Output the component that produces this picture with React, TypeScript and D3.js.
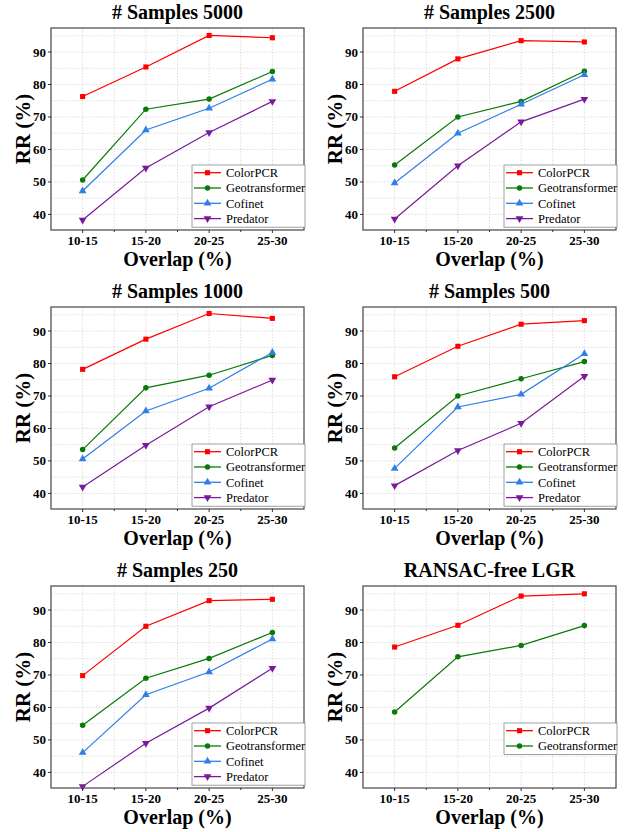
import React from "react";
import * as d3 from "d3";

// overlap buckets on the x axis
const overlaps = ["10-15", "15-20", "20-25", "25-30"];
const yTicks = [40, 50, 60, 70, 80, 90];
const methods = ["ColorPCR", "Geotransformer", "Cofinet", "Predator"];

// RR (%), one array per method per panel
const colorpcr5000 = [76.3, 85.4, 95.1, 94.4];
const geo5000 = [50.6, 72.4, 75.5, 84.0];
const cofinet5000 = [47.2, 66.0, 72.7, 81.6];
const predator5000 = [38.3, 54.3, 65.2, 74.8];

const colorpcr2500 = [77.9, 87.9, 93.5, 93.1];
const geo2500 = [55.2, 70.0, 74.8, 84.1];
const cofinet2500 = [49.7, 65.0, 73.9, 83.0];
const predator2500 = [38.6, 55.0, 68.5, 75.5];

const colorpcr1000 = [78.2, 87.5, 95.4, 93.9];
const geo1000 = [53.5, 72.5, 76.4, 82.5];
const cofinet1000 = [50.6, 65.4, 72.4, 83.4];
const predator1000 = [42.0, 54.8, 66.7, 74.9];

const colorpcr500 = [75.9, 85.3, 92.1, 93.2];
const geo500 = [54.0, 70.0, 75.3, 80.6];
const cofinet500 = [47.7, 66.6, 70.5, 83.0];
const predator500 = [42.4, 53.2, 61.6, 76.1];

const colorpcr250 = [69.8, 85.0, 92.9, 93.3];
const geo250 = [54.5, 69.0, 75.1, 83.1];
const cofinet250 = [46.1, 63.9, 70.9, 81.1];
const predator250 = [35.7, 49.0, 59.8, 72.1];

const colorpcrLGR = [78.6, 85.3, 94.3, 95.0];
const geoLGR = [58.6, 75.6, 79.1, 85.2];

const titles = ["# Samples 5000", "# Samples 2500", "# Samples 1000", "# Samples 500", "# Samples 250", "RANSAC-free LGR"];

const colors: Record<string, string> = {
  ColorPCR: "#ff0000",
  Geotransformer: "#087a08",
  Cofinet: "#2f7fe6",
  Predator: "#7a1a9a",
};
const shapes: Record<string, any> = {
  ColorPCR: { type: d3.symbolSquare, size: 26, rot: 0 },
  Geotransformer: { type: d3.symbolCircle, size: 24, rot: 0 },
  Cofinet: { type: d3.symbolTriangle, size: 26, rot: 0 },
  Predator: { type: d3.symbolTriangle, size: 26, rot: 180 },
};

const panels = [
  [colorpcr5000, geo5000, cofinet5000, predator5000],
  [colorpcr2500, geo2500, cofinet2500, predator2500],
  [colorpcr1000, geo1000, cofinet1000, predator1000],
  [colorpcr500, geo500, cofinet500, predator500],
  [colorpcr250, geo250, cofinet250, predator250],
  [colorpcrLGR, geoLGR],
];

const W = 629, H = 832;
const colLeft = [51, 363];
const rowTop = [28, 307, 586];
const pw = 253, ph = 202;
const serif = { fontFamily: "Liberation Serif, DejaVu Serif, serif" };

function Marker({ m, x, y }: { m: string; x: number; y: number }) {
  const s = shapes[m];
  const path = d3.symbol().type(s.type).size(s.size)()!;
  return <path d={path} transform={`translate(${x},${y}) rotate(${s.rot})`} fill={colors[m]} />;
}

function Panel({ idx }: { idx: number }) {
  const left = colLeft[idx % 2];
  const top = rowTop[Math.floor(idx / 2)];
  const right = left + pw, bottom = top + ph;
  const x = d3.scalePoint<string>().domain(overlaps).range([left, right]).padding(0.5);
  const y = d3.scaleLinear().domain([35.2, 97.4]).range([bottom, top]);
  const step = x.step();
  const series = panels[idx];
  const line = d3.line<number>().x((_, i) => x(overlaps[i])!).y((v) => y(v));
  const gridY = d3.range(40, 97, 5);
  const minorX = overlaps.map((c) => x(c)! + step / 2).slice(0, 3).concat([x(overlaps[0])! - step / 2]);
  const legTop = top + 137;
  const legLeft = right - 112;
  const legH = 15.3 * series.length + 1;

  return (
    <g style={serif}>
      <text x={(left + right) / 2} y={top - 9} textAnchor="middle" fontWeight="bold" fontSize={20}>
        {titles[idx]}
      </text>
      {/* grid */}
      <g stroke="#d6d6d6" strokeWidth={0.8} strokeDasharray="1.5,1.5">
        {gridY.map((v) => <line key={"h" + v} x1={left} x2={right} y1={y(v)} y2={y(v)} />)}
        {overlaps.map((c) => <line key={"v" + c} x1={x(c)} x2={x(c)} y1={top} y2={bottom} />)}
        {minorX.map((mx, i) => <line key={"m" + i} x1={mx} x2={mx} y1={top} y2={bottom} />)}
      </g>
      {/* lines and markers */}
      {series.map((vals, si) => (
        <g key={methods[si]}>
          <path d={line(vals)!} fill="none" stroke={colors[methods[si]]} strokeWidth={1.2} />
          {vals.map((v, i) => <Marker key={i} m={methods[si]} x={x(overlaps[i])!} y={y(v)} />)}
        </g>
      ))}
      {/* frame */}
      <rect x={left} y={top} width={pw} height={ph} fill="none" stroke="#555" strokeWidth={1.3} />
      {/* y ticks */}
      {yTicks.map((v) => (
        <g key={v}>
          <line x1={left - 3} x2={left} y1={y(v)} y2={y(v)} stroke="#333" strokeWidth={1} />
          <text x={left - 5} y={y(v) + 4.5} textAnchor="end" fontWeight="bold" fontSize={13}>{v}</text>
        </g>
      ))}
      {/* x ticks */}
      {overlaps.map((c) => (
        <g key={c}>
          <line x1={x(c)} x2={x(c)} y1={bottom} y2={bottom + 3} stroke="#333" strokeWidth={1} />
          <text x={x(c)} y={bottom + 15} textAnchor="middle" fontWeight="bold" fontSize={13}>{c}</text>
        </g>
      ))}
      {minorX.slice(0, 3).map((mx, i) => (
        <line key={"mt" + i} x1={mx} x2={mx} y1={bottom} y2={bottom + 2} stroke="#333" strokeWidth={1} />
      ))}
      {/* axis titles */}
      <text x={(left + right) / 2} y={bottom + 36} textAnchor="middle" fontWeight="bold" fontSize={20}>
        Overlap (%)
      </text>
      <text transform={`translate(${left - 21},${(top + bottom) / 2}) rotate(-90)`} textAnchor="middle" fontWeight="bold" fontSize={21}>
        RR (%)
      </text>
      {/* legend */}
      <rect x={legLeft} y={legTop} width={113} height={legH} fill="#fff" stroke="#888" strokeWidth={0.8} />
      {series.map((_, si) => {
        const ly = legTop + 7.7 + 15.3 * si;
        const m = methods[si];
        return (
          <g key={m}>
            <line x1={legLeft + 2} x2={legLeft + 29} y1={ly} y2={ly} stroke={colors[m]} strokeWidth={1.3} />
            <Marker m={m} x={legLeft + 15.5} y={ly} />
            <text x={legLeft + 34} y={ly + 4.3} fontSize={12.5}>{m}</text>
          </g>
        );
      })}
    </g>
  );
}

export default function App() {
  return (
    <svg width={W} height={H} style={{ position: "absolute", left: 0, top: 0, background: "#fff" }}>
      <rect width={W} height={H} fill="#fff" />
      {panels.map((_, i) => <Panel key={i} idx={i} />)}
    </svg>
  );
}
